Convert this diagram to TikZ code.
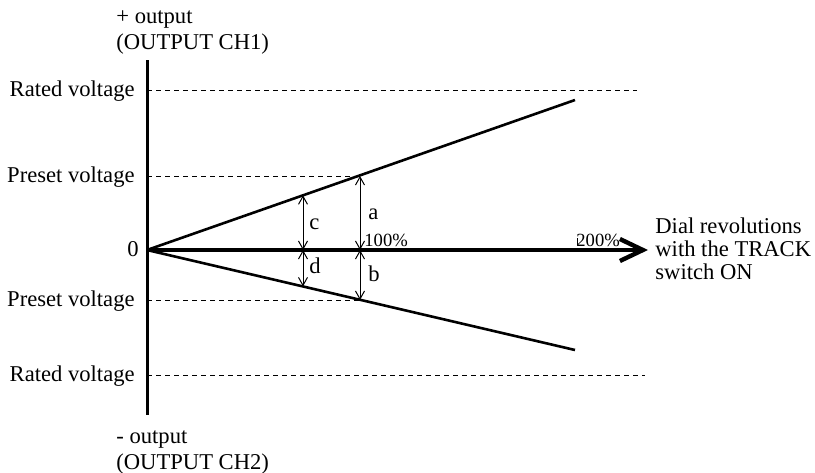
\documentclass[tikz,border=0pt]{standalone}
\usepackage{fontspec}
\setmainfont{Liberation Serif}
\usetikzlibrary{arrows.meta}
\begin{document}
\begin{tikzpicture}[x=0.5pt,y=-0.5pt,
  every node/.style={font=\fontsize{11.3}{13}\selectfont, inner sep=0pt},
  axisline/.style={line width=1.5pt},
  graphline/.style={line width=1.3pt},
  guide/.style={line width=0.45pt, dash pattern=on 2.5pt off 2pt},
  dim/.style={line width=0.5pt, {Straight Barb[length=4pt,width=4.5pt]}-{Straight Barb[length=4pt,width=4.5pt]}},
  pct/.style={anchor=base west, font=\fontsize{9.3}{11}\selectfont},
  lbl/.style={anchor=base west}]
\useasboundingbox (0,0) rectangle (815,472);
% coordinates
\coordinate (o) at (147,250);
\coordinate (ytop) at (147,60);
\coordinate (ybot) at (147,415);
\coordinate (xend) at (648,250);
\coordinate (up) at (575,100);
\coordinate (lo) at (575,350);
\coordinate (r1a) at (147,90);  \coordinate (r1b) at (637,90);
\coordinate (p1a) at (147,176); \coordinate (p1b) at (360,176);
\coordinate (p2a) at (147,300); \coordinate (p2b) at (360,300);
\coordinate (r2a) at (147,375); \coordinate (r2b) at (645,375);
\coordinate (ax) at (360,250);
\coordinate (cx) at (303,250);
\coordinate (cu) at (303,195.3);
\coordinate (cl) at (303,286.4);
\coordinate (tk1) at (577,245);
\coordinate (tk2) at (577,238);
% guides
\draw[guide] (r1a) -- (r1b);
\draw[guide] (p1a) -- (p1b);
\draw[guide] (p2a) -- (p2b);
\draw[guide] (r2a) -- (r2b);
% graph lines
\draw[graphline] (o) -- (up);
\draw[graphline] (o) -- (lo);
% axes
\draw[axisline] (ytop) -- (ybot);
\draw[line width=2pt, -{Straight Barb[length=11.5pt,width=11pt,line width=2.2pt]}] (o) -- (xend);
\draw[line width=0.4pt] (tk1) -- (tk2);
% dimension arrows
\draw[dim] (ax) -- (p1b);
\draw[dim] (ax) -- (p2b);
\draw[dim] (cx) -- (cu);
\draw[dim] (cx) -- (cl);
% labels
\node[lbl] (la) at (368,219) {a};
\node[lbl] (lb) at (368,281) {b};
\node[lbl] (lc) at (309,229) {c};
\node[lbl] (ld) at (309,273) {d};
\node[pct] (l100) at (364,246) {100\%};
\node[pct] (l200) at (576,246) {200\%};
\node[anchor=base east] (zero) at (139,256) {0};
\node[anchor=base east] (rv1) at (135,96) {Rated voltage};
\node[anchor=base east] (pv1) at (135,182) {Preset voltage};
\node[anchor=base east] (pv2) at (135,306) {Preset voltage};
\node[anchor=base east] (rv2) at (135,381) {Rated voltage};
\node[lbl] (po1) at (116,23) {+ output};
\node[lbl] (po2) at (116,49) {(OUTPUT CH1)};
\node[lbl] (mo1) at (116,443) {- output};
\node[lbl] (mo2) at (116,469) {(OUTPUT CH2)};
\node[lbl] (d1) at (655,233) {Dial revolutions};
\node[lbl] (d2) at (655,256) {with the TRACK};
\node[lbl] (d3) at (655,279) {switch ON};
\end{tikzpicture}
\end{document}
